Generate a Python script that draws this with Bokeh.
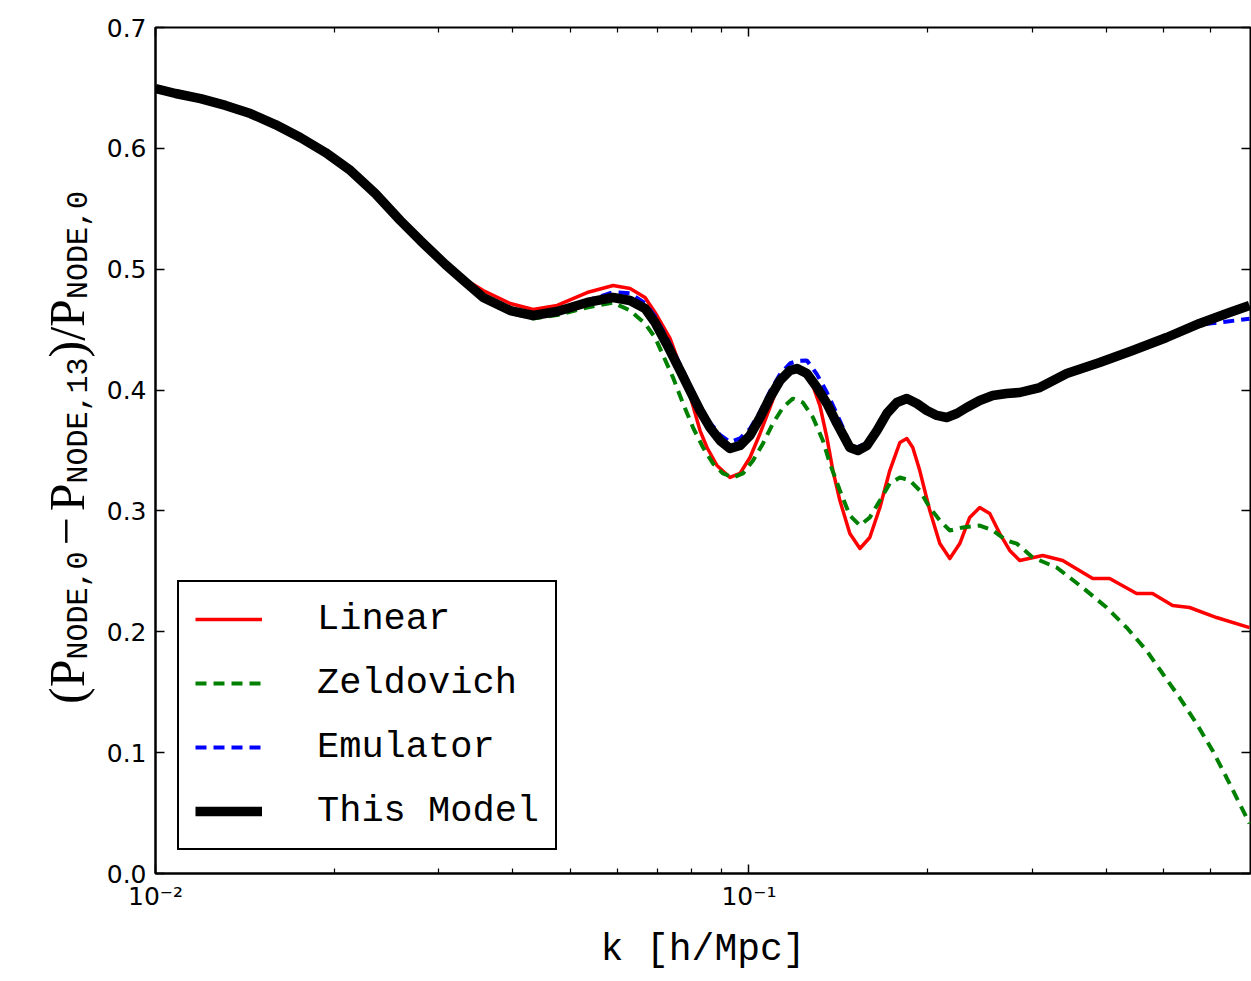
import math
from bokeh.plotting import figure
from bokeh.layouts import row
from bokeh.models import (FixedTicker, LogAxis, LinearAxis, Range1d, Label, Legend,
                          LegendItem, CustomJSTickFormatter, PrintfTickFormatter)
from bokeh.embed import file_html
from bokeh.resources import INLINE

# ---------------- data ----------------
k_model = [0.01000, 0.01081, 0.01191, 0.01312, 0.01445, 0.01592, 0.01754, 0.01933, 0.02130,
           0.02346, 0.02585, 0.02793, 0.03078, 0.03326, 0.03566, 0.03960, 0.04329, 0.04751,
           0.05337, 0.05903, 0.06305, 0.06682, 0.06947, 0.07362, 0.07653, 0.07956, 0.08271,
           0.08598, 0.08938, 0.09291, 0.09657, 0.1004, 0.1044, 0.1085, 0.1128, 0.1172, 0.1205,
           0.1252, 0.1302, 0.1353, 0.1407, 0.1479, 0.1526, 0.1580, 0.1643, 0.1707, 0.1775,
           0.1845, 0.1918, 0.1994, 0.2073, 0.2154, 0.2240, 0.2328, 0.2448, 0.2575, 0.2718,
           0.2859, 0.3090, 0.3431, 0.3899, 0.4431, 0.5055, 0.5745, 0.6452, 0.6973]
y_model = [0.6495, 0.6454, 0.6412, 0.6355, 0.6288, 0.6197, 0.6090, 0.5966, 0.5817, 0.5626,
           0.5403, 0.5238, 0.5040, 0.4895, 0.4766, 0.4658, 0.4617, 0.4650, 0.4725, 0.4766,
           0.4741, 0.4675, 0.4559, 0.4327, 0.4162, 0.3996, 0.3831, 0.3690, 0.3583, 0.3516,
           0.3541, 0.3624, 0.3773, 0.3938, 0.4079, 0.4162, 0.4178, 0.4137, 0.4021, 0.3889,
           0.3723, 0.3525, 0.3500, 0.3541, 0.3665, 0.3806, 0.3897, 0.3930, 0.3889, 0.3831,
           0.3790, 0.3773, 0.3806, 0.3856, 0.3914, 0.3955, 0.3972, 0.3980, 0.4021, 0.4137,
           0.4228, 0.4327, 0.4435, 0.4551, 0.4642, 0.4700]

k_emu = k_model
y_emu = [0.6495, 0.6454, 0.6412, 0.6355, 0.6288, 0.6197, 0.6090, 0.5966, 0.5817, 0.5626,
         0.5403, 0.5238, 0.5040, 0.4895, 0.4766, 0.4658, 0.4617, 0.4650, 0.4740, 0.4810,
         0.4800, 0.4720, 0.4610, 0.4380, 0.4210, 0.4040, 0.3870, 0.3730, 0.3630, 0.3570,
         0.3600, 0.3680, 0.3820, 0.3990, 0.4130, 0.4220, 0.4240, 0.4245, 0.4130, 0.3980,
         0.3800, 0.3560, 0.3530, 0.3560, 0.3680, 0.3820, 0.3910, 0.3945, 0.3900, 0.3831,
         0.3790, 0.3773, 0.3806, 0.3856, 0.3914, 0.3955, 0.3972, 0.3980, 0.4021, 0.4137,
         0.4228, 0.4327, 0.4435, 0.4540, 0.4570, 0.4590]

k_lin = [0.01000, 0.01081, 0.01191, 0.01312, 0.01445, 0.01592, 0.01754, 0.01933, 0.02130,
         0.02346, 0.02585, 0.02793, 0.03078, 0.03326, 0.03566, 0.03960, 0.04329, 0.04751,
         0.05337, 0.05903, 0.06305, 0.06682, 0.06947, 0.07362, 0.07653, 0.07956, 0.08271,
         0.08497, 0.08833, 0.09291, 0.09657, 0.1004, 0.1044, 0.1085, 0.1128, 0.1172, 0.1219,
         0.1267, 0.1317, 0.1353, 0.1385, 0.1423, 0.1479, 0.1538, 0.1598, 0.1662, 0.1727,
         0.1796, 0.1845, 0.1888, 0.1940, 0.2017, 0.2097, 0.2180, 0.2266, 0.2355, 0.2448,
         0.2545, 0.2646, 0.2750, 0.2859, 0.3126, 0.3378, 0.3795, 0.4053, 0.4499, 0.4787,
         0.5174, 0.5526, 0.6136, 0.6973]
y_lin = [0.6495, 0.6454, 0.6412, 0.6355, 0.6288, 0.6197, 0.6090, 0.5966, 0.5817, 0.5626,
         0.5403, 0.5238, 0.5040, 0.4915, 0.4824, 0.4716, 0.4667, 0.4700, 0.4807, 0.4865,
         0.4840, 0.4766, 0.4642, 0.4427, 0.4203, 0.3955, 0.3665, 0.3525, 0.3376, 0.3277,
         0.3310, 0.3442, 0.3641, 0.3856, 0.4079, 0.4162, 0.4178, 0.4104, 0.3872, 0.3607,
         0.3334, 0.3086, 0.2813, 0.2689, 0.2780, 0.3028, 0.3334, 0.3566, 0.3599, 0.3525,
         0.3334, 0.3003, 0.2730, 0.2606, 0.2730, 0.2946, 0.3028, 0.2979, 0.2813, 0.2673,
         0.2590, 0.2631, 0.2590, 0.2441, 0.2441, 0.2317, 0.2317, 0.2217, 0.2201, 0.2118,
         0.2035]

k_zel = [0.01000, 0.01081, 0.01191, 0.01312, 0.01445, 0.01592, 0.01754, 0.01933, 0.02130,
         0.02346, 0.02585, 0.02793, 0.03078, 0.03326, 0.03566, 0.03960, 0.04329, 0.04751,
         0.05337, 0.05903, 0.06305, 0.06682, 0.06947, 0.07448, 0.07743, 0.08049, 0.08367,
         0.08697, 0.09041, 0.09398, 0.09770, 0.1016, 0.1056, 0.1097, 0.1141, 0.1186, 0.1233,
         0.1282, 0.1332, 0.1369, 0.1423, 0.1479, 0.1538, 0.1598, 0.1662, 0.1727, 0.1796,
         0.1867, 0.1940, 0.2017, 0.2097, 0.2180, 0.2292, 0.2448, 0.2575, 0.2718, 0.2826,
         0.3007, 0.3300, 0.3649, 0.4006, 0.4329, 0.4677, 0.4977, 0.5315, 0.5677, 0.6041,
         0.6378, 0.6709, 0.6973]
y_zel = [0.6495, 0.6454, 0.6412, 0.6355, 0.6288, 0.6197, 0.6090, 0.5966, 0.5817, 0.5626,
         0.5403, 0.5238, 0.5040, 0.4880, 0.4760, 0.4640, 0.4592, 0.4620, 0.4683, 0.4724,
         0.4658, 0.4551, 0.4435, 0.4104, 0.3889, 0.3690, 0.3525, 0.3392, 0.3310, 0.3277,
         0.3310, 0.3417, 0.3558, 0.3723, 0.3856, 0.3930, 0.3897, 0.3773, 0.3583, 0.3392,
         0.3169, 0.2962, 0.2879, 0.2946, 0.3086, 0.3227, 0.3277, 0.3252, 0.3169, 0.3028,
         0.2921, 0.2838, 0.2863, 0.2879, 0.2838, 0.2755, 0.2730, 0.2615, 0.2532, 0.2366,
         0.2201, 0.2035, 0.1845, 0.1655, 0.1456, 0.1241, 0.1018, 0.0794, 0.0579, 0.0414]

series_labels = ["Linear", "Zeldovich", "Emulator", "This Model"]
x_major = [0.01, 0.1]
x_minor = [0.02, 0.03, 0.04, 0.05, 0.06, 0.07, 0.08, 0.09, 0.2, 0.3, 0.4, 0.5, 0.6]
y_ticks = [0.0, 0.1, 0.2, 0.3, 0.4, 0.5, 0.6, 0.7]
x_label = "k [h/Mpc]"
y_label_pieces = [("(", "b"), ("P", "b"), ("NODE,0", "s"), ("\u2212", "b"), ("P", "b"),
                  ("NODE,13", "s"), (")", "b"), ("/", "b"), ("P", "b"), ("NODE,0", "s")]

# ---------------- layout ----------------
W, H = 1251, 981
WL = 100                      # width of the strip that carries the y label
FL, FR, FT, FB = 155, 1250, 27, 873
X0, X1 = 0.01, 0.7
Y0, Y1 = 0.0, 0.7

p = figure(width=W - WL, height=H, x_axis_type="log",
           x_range=Range1d(X0, X1), y_range=Range1d(Y0, Y1),
           output_backend="svg", toolbar_location=None,
           min_border_left=FL - WL, min_border_right=W - FR,
           min_border_top=FT, min_border_bottom=H - FB)
p.background_fill_color = "white"
p.border_fill_color = "white"
p.outline_line_color = "black"
p.outline_line_width = 2
p.xgrid.visible = False
p.ygrid.visible = False

r_lin = p.line(k_lin, y_lin, line_color="#ff0000", line_width=3.5, line_join="round")
r_zel = p.line(k_zel, y_zel, line_color="#008000", line_width=4, line_dash="11 7")
r_emu = p.line(k_emu, y_emu, line_color="#0000ff", line_width=4, line_dash="11 7")
r_mod = p.line(k_model, y_model, line_color="black", line_width=9.5, line_join="round")

sup_code = """
const e = Math.round(Math.log10(tick));
const sup = {'-':'\u207b','0':'\u2070','1':'\u00b9','2':'\u00b2','3':'\u00b3'};
return '10' + String(e).split('').map(c => sup[c]).join('');
"""

xa = p.xaxis[0]
xa.ticker = FixedTicker(ticks=x_major, minor_ticks=x_minor)
xa.formatter = CustomJSTickFormatter(code=sup_code)
ya = p.yaxis[0]
ya.ticker = FixedTicker(ticks=y_ticks)
ya.formatter = PrintfTickFormatter(format="%.1f")

for ax in (xa, ya):
    ax.axis_line_width = 2
    ax.axis_line_color = "black"
    ax.major_tick_in = 9
    ax.major_tick_out = 0
    ax.minor_tick_in = 5
    ax.minor_tick_out = 0
    ax.major_tick_line_width = 1.5
    ax.minor_tick_line_width = 1.2
    ax.major_label_text_font = "DejaVu Sans"
    ax.major_label_text_font_size = "25px"
    ax.major_label_text_color = "black"
ya.major_label_standoff = 9
xa.major_label_standoff = 8

xa.axis_label = x_label
xa.axis_label_text_font = "Liberation Mono"
xa.axis_label_text_font_size = "38px"
xa.axis_label_text_font_style = "normal"
xa.axis_label_text_color = "black"
xa.axis_label_standoff = 14

# mirrored ticks on top and right
top = LogAxis(ticker=FixedTicker(ticks=x_major, minor_ticks=x_minor))
right = LinearAxis(ticker=FixedTicker(ticks=y_ticks))
for ax in (top, right):
    ax.axis_line_color = None
    ax.major_tick_in = 9
    ax.major_tick_out = 0
    ax.minor_tick_in = 5
    ax.minor_tick_out = 0
    ax.major_tick_line_width = 1.5
    ax.minor_tick_line_width = 1.2
    ax.major_label_text_font_size = "1px"
    ax.major_label_text_alpha = 0
    ax.major_label_standoff = 0
p.add_layout(top, "above")
p.add_layout(right, "right")

# legend
legend = Legend(items=[LegendItem(label=series_labels[0], renderers=[r_lin]),
                       LegendItem(label=series_labels[1], renderers=[r_zel]),
                       LegendItem(label=series_labels[2], renderers=[r_emu]),
                       LegendItem(label=series_labels[3], renderers=[r_mod])],
                location=(22, 23))
legend.border_line_color = "black"
legend.border_line_width = 2
legend.border_line_alpha = 1
legend.background_fill_color = "white"
legend.background_fill_alpha = 1
legend.label_text_font = "Liberation Mono"
legend.label_text_font_size = "37px"
legend.label_text_color = "black"
legend.glyph_width = 67
legend.glyph_height = 40
legend.label_height = 40
legend.label_standoff = 55
legend.spacing = 22
legend.padding = 16
legend.margin = 0
p.add_layout(legend)

# ---------------- y label strip (left) ----------------
# its frame lines up with the main frame (rows align plot frames), so data units = canvas px
q = figure(width=WL, height=H, title=None,
           x_range=Range1d(0, WL), y_range=Range1d(H - FB, H - FT),
           output_backend="svg", toolbar_location=None,
           min_border_left=0, min_border_right=0,
           min_border_top=FT, min_border_bottom=H - FB,
           x_axis_location=None, y_axis_location=None)
q.outline_line_color = None
q.background_fill_color = "white"
q.border_fill_color = "white"
q.xgrid.visible = False
q.ygrid.visible = False

SERIF, MONO = "Liberation Serif", "Liberation Mono"
FS_BIG, FS_SUB = 50, 30
adv = {"(": 0.333, ")": 0.333, "P": 0.556, "/": 0.278, "\u2212": 0.564}
gap_before = {3: 6, 4: 6}

def width(t, kind):
    if kind == "b":
        return adv[t] * FS_BIG
    return len(t) * 0.6 * FS_SUB

total = sum(gap_before.get(i, 0) + width(t, k) for i, (t, k) in enumerate(y_label_pieces))
cur = (FT + FB) / 2 - 3 + total / 2          # canvas y of the lower end
for i, (t, kind) in enumerate(y_label_pieces):
    cur -= gap_before.get(i, 0)
    base = 66 if kind == "b" else 78         # canvas x of the text baseline
    q.add_layout(Label(x=base, y=H - cur, x_units="data", y_units="data",
                       text=t, angle=math.pi / 2, text_align="left",
                       text_baseline="alphabetic",
                       text_font=SERIF if kind == "b" else MONO,
                       text_font_size=f"{FS_BIG if kind == 'b' else FS_SUB}px",
                       text_color="black"))
    cur -= width(t, kind)

layout = row(q, p)
open("out.html", "w").write(file_html(layout, INLINE))
